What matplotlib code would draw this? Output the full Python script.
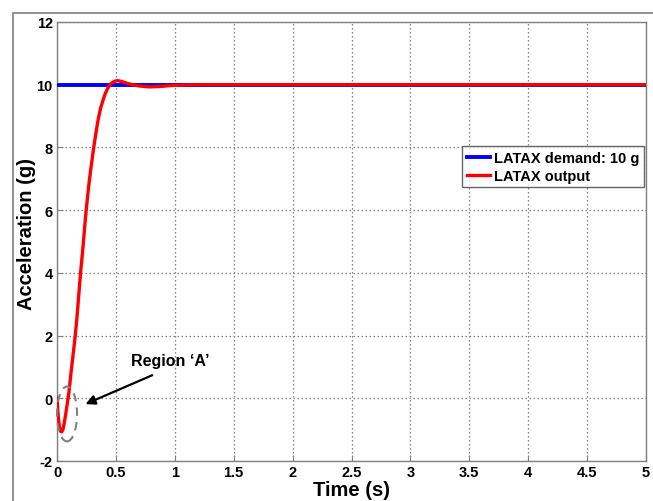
import matplotlib
matplotlib.use("Agg")
import matplotlib.pyplot as plt
from matplotlib.patches import Ellipse, Rectangle

plt.rcParams['font.family'] = ['Liberation Sans', 'DejaVu Sans']
plt.rcParams['axes.unicode_minus'] = False

# Data
t_demand = [0, 5]
a_demand = [10, 10]

t_out = [0.0, 0.01, 0.02, 0.03, 0.04, 0.05, 0.06, 0.07, 0.08, 0.09, 0.10, 0.12, 0.14,
         0.155, 0.17, 0.185, 0.20, 0.22, 0.245, 0.27, 0.29, 0.31, 0.33, 0.35, 0.37,
         0.39, 0.41, 0.43, 0.45, 0.47, 0.49, 0.51, 0.53, 0.56, 0.60, 0.65, 0.70,
         0.75, 0.79, 0.85, 0.90, 0.95, 1.0, 1.1, 1.2, 1.4, 2.0, 3.0, 4.0, 5.0]
a_out = [0.0, -0.55, -0.9, -1.05, -1.07, -1.0, -0.82, -0.6, -0.35, -0.1, 0.15, 0.85, 1.5,
         2.0, 2.6, 3.3, 4.0, 4.8, 5.9, 6.8, 7.4, 7.95, 8.45, 8.9, 9.25,
         9.5, 9.72, 9.88, 10.0, 10.07, 10.11, 10.13, 10.12, 10.09, 10.04, 9.99, 9.96,
         9.94, 9.93, 9.94, 9.95, 9.97, 9.98, 9.99, 10.0, 10.0, 10.0, 10.0, 10.0, 10.0]

x_ticks = [0, 0.5, 1, 1.5, 2, 2.5, 3, 3.5, 4, 4.5, 5]
x_tick_labels = ['0', '0.5', '1', '1.5', '2', '2.5', '3', '3.5', '4', '4.5', '5']
y_ticks = [-2, 0, 2, 4, 6, 8, 10, 12]

fig = plt.figure(figsize=(6.53, 5.02), dpi=100)
# outer frame
fig.add_artist(Rectangle((13/653, -0.05), 1.0, (502-14)/502 + 0.05,
                         transform=fig.transFigure, fill=False,
                         edgecolor='#7f7f7f', linewidth=1.2))
ax = fig.add_axes([57/653, 1-462/502, (646-57)/653, (462-23)/502])

ax.plot(t_demand, a_demand, color='#0000ff', linewidth=2.8, label='LATAX demand: 10 g', zorder=3)
ax.plot(t_out, a_out, color='#ff0000', linewidth=2.4, label='LATAX output', zorder=4)

ax.set_xlim(0, 5)
ax.set_ylim(-2, 12)
ax.set_xticks(x_ticks)
ax.set_xticklabels(x_tick_labels)
ax.set_yticks(y_ticks)
for lab in ax.get_xticklabels() + ax.get_yticklabels():
    lab.set_fontweight('bold')
    lab.set_fontsize(10.5)
ax.tick_params(direction='in', length=4, color='#808080', pad=3)
for s in ax.spines.values():
    s.set_color('#808080')
    s.set_linewidth(1.0)
ax.grid(True, linestyle=(0, (1.2, 2)), color='#808080', linewidth=0.9)

ax.set_xlabel('Time (s)', fontsize=14.5, fontweight='bold', labelpad=0.5)
ax.set_ylabel('Acceleration (g)', fontsize=14.5, fontweight='bold', va='center')
ax.yaxis.set_label_coords((27 - 57) / 589, 0.52)

leg = ax.legend(loc='upper right', bbox_to_anchor=(0.997, 0.717),
                prop={'weight': 'bold', 'size': 10.5}, frameon=True, fancybox=False,
                handlelength=1.6, handletextpad=0.3, borderpad=0.3, labelspacing=0.3,
                borderaxespad=0)
leg.get_frame().set_edgecolor('#404040')
leg.get_frame().set_linewidth(1.0)

ell = Ellipse((0.085, -0.5), width=0.17, height=1.75, angle=0, fill=False,
              edgecolor='#808080', linestyle=(0, (4, 3)), linewidth=1.5, clip_on=False, zorder=5)
ax.add_patch(ell)

ax.annotate('', xy=(0.22, -0.22), xytext=(0.83, 0.77),
            arrowprops=dict(arrowstyle='-|>', color='black', lw=1.6, mutation_scale=14))
ax.text(0.96, 1.22, 'Region \u2018A\u2019', fontsize=11.5, fontweight='bold',
        ha='center', va='center')

fig.savefig('out.png', dpi=100)
